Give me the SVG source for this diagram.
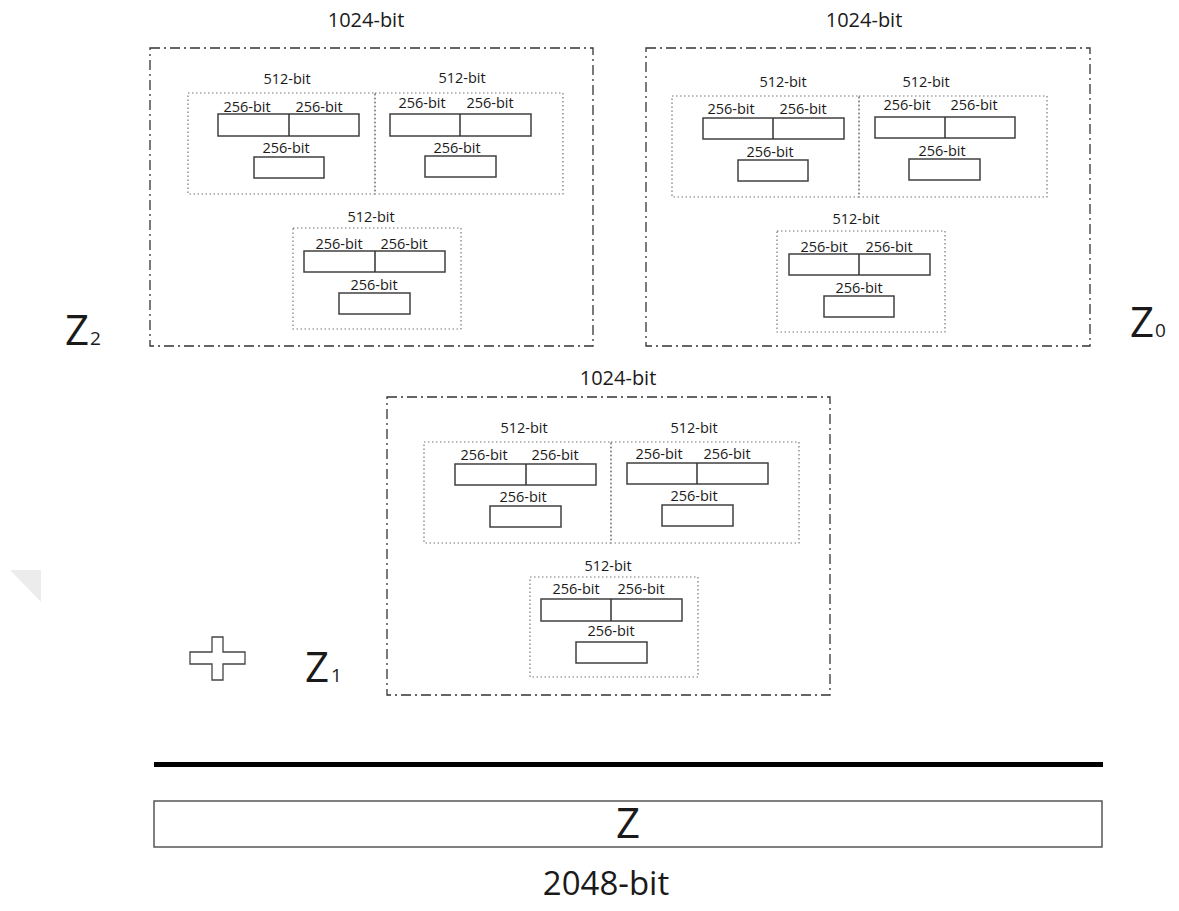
<svg xmlns="http://www.w3.org/2000/svg" width="1179" height="911" viewBox="0 0 1179 911">
<style>
.o{fill:none;stroke:#333;stroke-width:1.3;stroke-dasharray:10 4 2 4}
.d{fill:none;stroke:#777;stroke-width:1.2;stroke-dasharray:1.5 2.5}
.c{fill:#fff;stroke:#404040;stroke-width:1.5}
.v{stroke:#333;stroke-width:1.5}
text{font-family:"Open Sans","Liberation Sans",sans-serif;fill:#1a1a1a;text-anchor:middle}
.s{font-size:14.5px}
.m{font-size:20px}
.z{font-size:42px;text-anchor:start}
.zs{font-size:19px;text-anchor:start}
</style>
<rect width="1179" height="911" fill="#fff"/>
<polygon points="10,570 41,570 41,602" fill="#ececec"/>

<g id="block-z2">
<text class="m" x="366" y="27">1024-bit</text>
<rect class="o" x="150" y="48" width="443" height="298"/>
<rect class="d" x="188" y="93" width="187" height="101"/>
<rect class="d" x="375" y="93" width="188" height="101"/>
<text class="s" x="287" y="84">512-bit</text>
<text class="s" x="462" y="83">512-bit</text>
<rect class="c" x="218" y="114" width="141" height="22"/><line class="v" x1="289" y1="114" x2="289" y2="136"/>
<text class="s" x="247" y="112">256-bit</text><text class="s" x="319" y="112">256-bit</text>
<rect class="c" x="254" y="157" width="70" height="21"/><text class="s" x="286" y="153">256-bit</text>
<rect class="c" x="390" y="114" width="141" height="22"/><line class="v" x1="460" y1="114" x2="460" y2="136"/>
<text class="s" x="422" y="108">256-bit</text><text class="s" x="490" y="108">256-bit</text>
<rect class="c" x="425" y="156" width="71" height="21"/><text class="s" x="457" y="153">256-bit</text>
<rect class="d" x="293" y="228" width="168" height="101"/>
<text class="s" x="371" y="222">512-bit</text>
<rect class="c" x="304" y="251" width="141" height="21"/><line class="v" x1="375" y1="251" x2="375" y2="272"/>
<text class="s" x="339" y="249">256-bit</text><text class="s" x="404" y="249">256-bit</text>
<rect class="c" x="339" y="293" width="71" height="21"/><text class="s" x="374" y="290">256-bit</text>
</g>

<g id="block-z0">
<text class="m" x="864" y="27">1024-bit</text>
<rect class="o" x="646" y="48" width="444" height="298"/>
<rect class="d" x="672" y="96" width="187" height="101"/>
<rect class="d" x="859" y="96" width="188" height="101"/>
<text class="s" x="783" y="87">512-bit</text>
<text class="s" x="926" y="87">512-bit</text>
<rect class="c" x="703" y="118" width="141" height="21"/><line class="v" x1="773" y1="118" x2="773" y2="139"/>
<text class="s" x="731" y="114">256-bit</text><text class="s" x="803" y="114">256-bit</text>
<rect class="c" x="738" y="160" width="70" height="21"/><text class="s" x="770" y="157">256-bit</text>
<rect class="c" x="875" y="117" width="140" height="21"/><line class="v" x1="945" y1="117" x2="945" y2="138"/>
<text class="s" x="907" y="110">256-bit</text><text class="s" x="974" y="110">256-bit</text>
<rect class="c" x="909" y="159" width="71" height="21"/><text class="s" x="942" y="156">256-bit</text>
<rect class="d" x="777" y="231" width="168" height="101"/>
<text class="s" x="856" y="224">512-bit</text>
<rect class="c" x="789" y="254" width="141" height="21"/><line class="v" x1="859" y1="254" x2="859" y2="275"/>
<text class="s" x="824" y="252">256-bit</text><text class="s" x="889" y="252">256-bit</text>
<rect class="c" x="824" y="296" width="70" height="21"/><text class="s" x="859" y="293">256-bit</text>
</g>

<g id="block-z1">
<text class="m" x="618" y="385">1024-bit</text>
<rect class="o" x="387" y="397" width="443" height="298"/>
<rect class="d" x="424" y="442" width="187" height="101"/>
<rect class="d" x="611" y="442" width="188" height="101"/>
<text class="s" x="524" y="433">512-bit</text>
<text class="s" x="694" y="433">512-bit</text>
<rect class="c" x="455" y="464" width="141" height="21"/><line class="v" x1="526" y1="464" x2="526" y2="485"/>
<text class="s" x="484" y="460">256-bit</text><text class="s" x="555" y="460">256-bit</text>
<rect class="c" x="490" y="506" width="71" height="21"/><text class="s" x="523" y="502">256-bit</text>
<rect class="c" x="627" y="463" width="141" height="21"/><line class="v" x1="697" y1="463" x2="697" y2="484"/>
<text class="s" x="659" y="459">256-bit</text><text class="s" x="727" y="459">256-bit</text>
<rect class="c" x="662" y="505" width="71" height="21"/><text class="s" x="694" y="501">256-bit</text>
<rect class="d" x="530" y="577" width="168" height="100"/>
<text class="s" x="608" y="571">512-bit</text>
<rect class="c" x="541" y="599" width="141" height="22"/><line class="v" x1="611" y1="599" x2="611" y2="621"/>
<text class="s" x="576" y="594">256-bit</text><text class="s" x="641" y="594">256-bit</text>
<rect class="c" x="576" y="642" width="71" height="21"/><text class="s" x="611" y="636">256-bit</text>
</g>

<g id="labels">
<text class="z" x="65" y="345">Z</text><text class="zs" x="90" y="345">2</text>
<text class="z" x="1130" y="337">Z</text><text class="zs" x="1155" y="337">0</text>
<text class="z" x="305" y="682">Z</text><text class="zs" x="331" y="682">1</text>
</g>

<g id="plus">
<polygon points="212,637 223,637 223,652 245,652 245,664 223,664 223,680 212,680 212,664 190,664 190,652 212,652" fill="#fff" stroke="#444" stroke-width="1.3"/>
</g>

<g id="connectors">
<line x1="154" y1="764.5" x2="1103" y2="764.5" stroke="#000" stroke-width="5"/>
</g>

<g id="result">
<rect x="154" y="801" width="948" height="46" fill="#fff" stroke="#555" stroke-width="1.5"/>
<text x="628" y="838" style="font-size:42px">Z</text>
<text x="606" y="895" style="font-size:33px">2048-bit</text>
</g>
</svg>
